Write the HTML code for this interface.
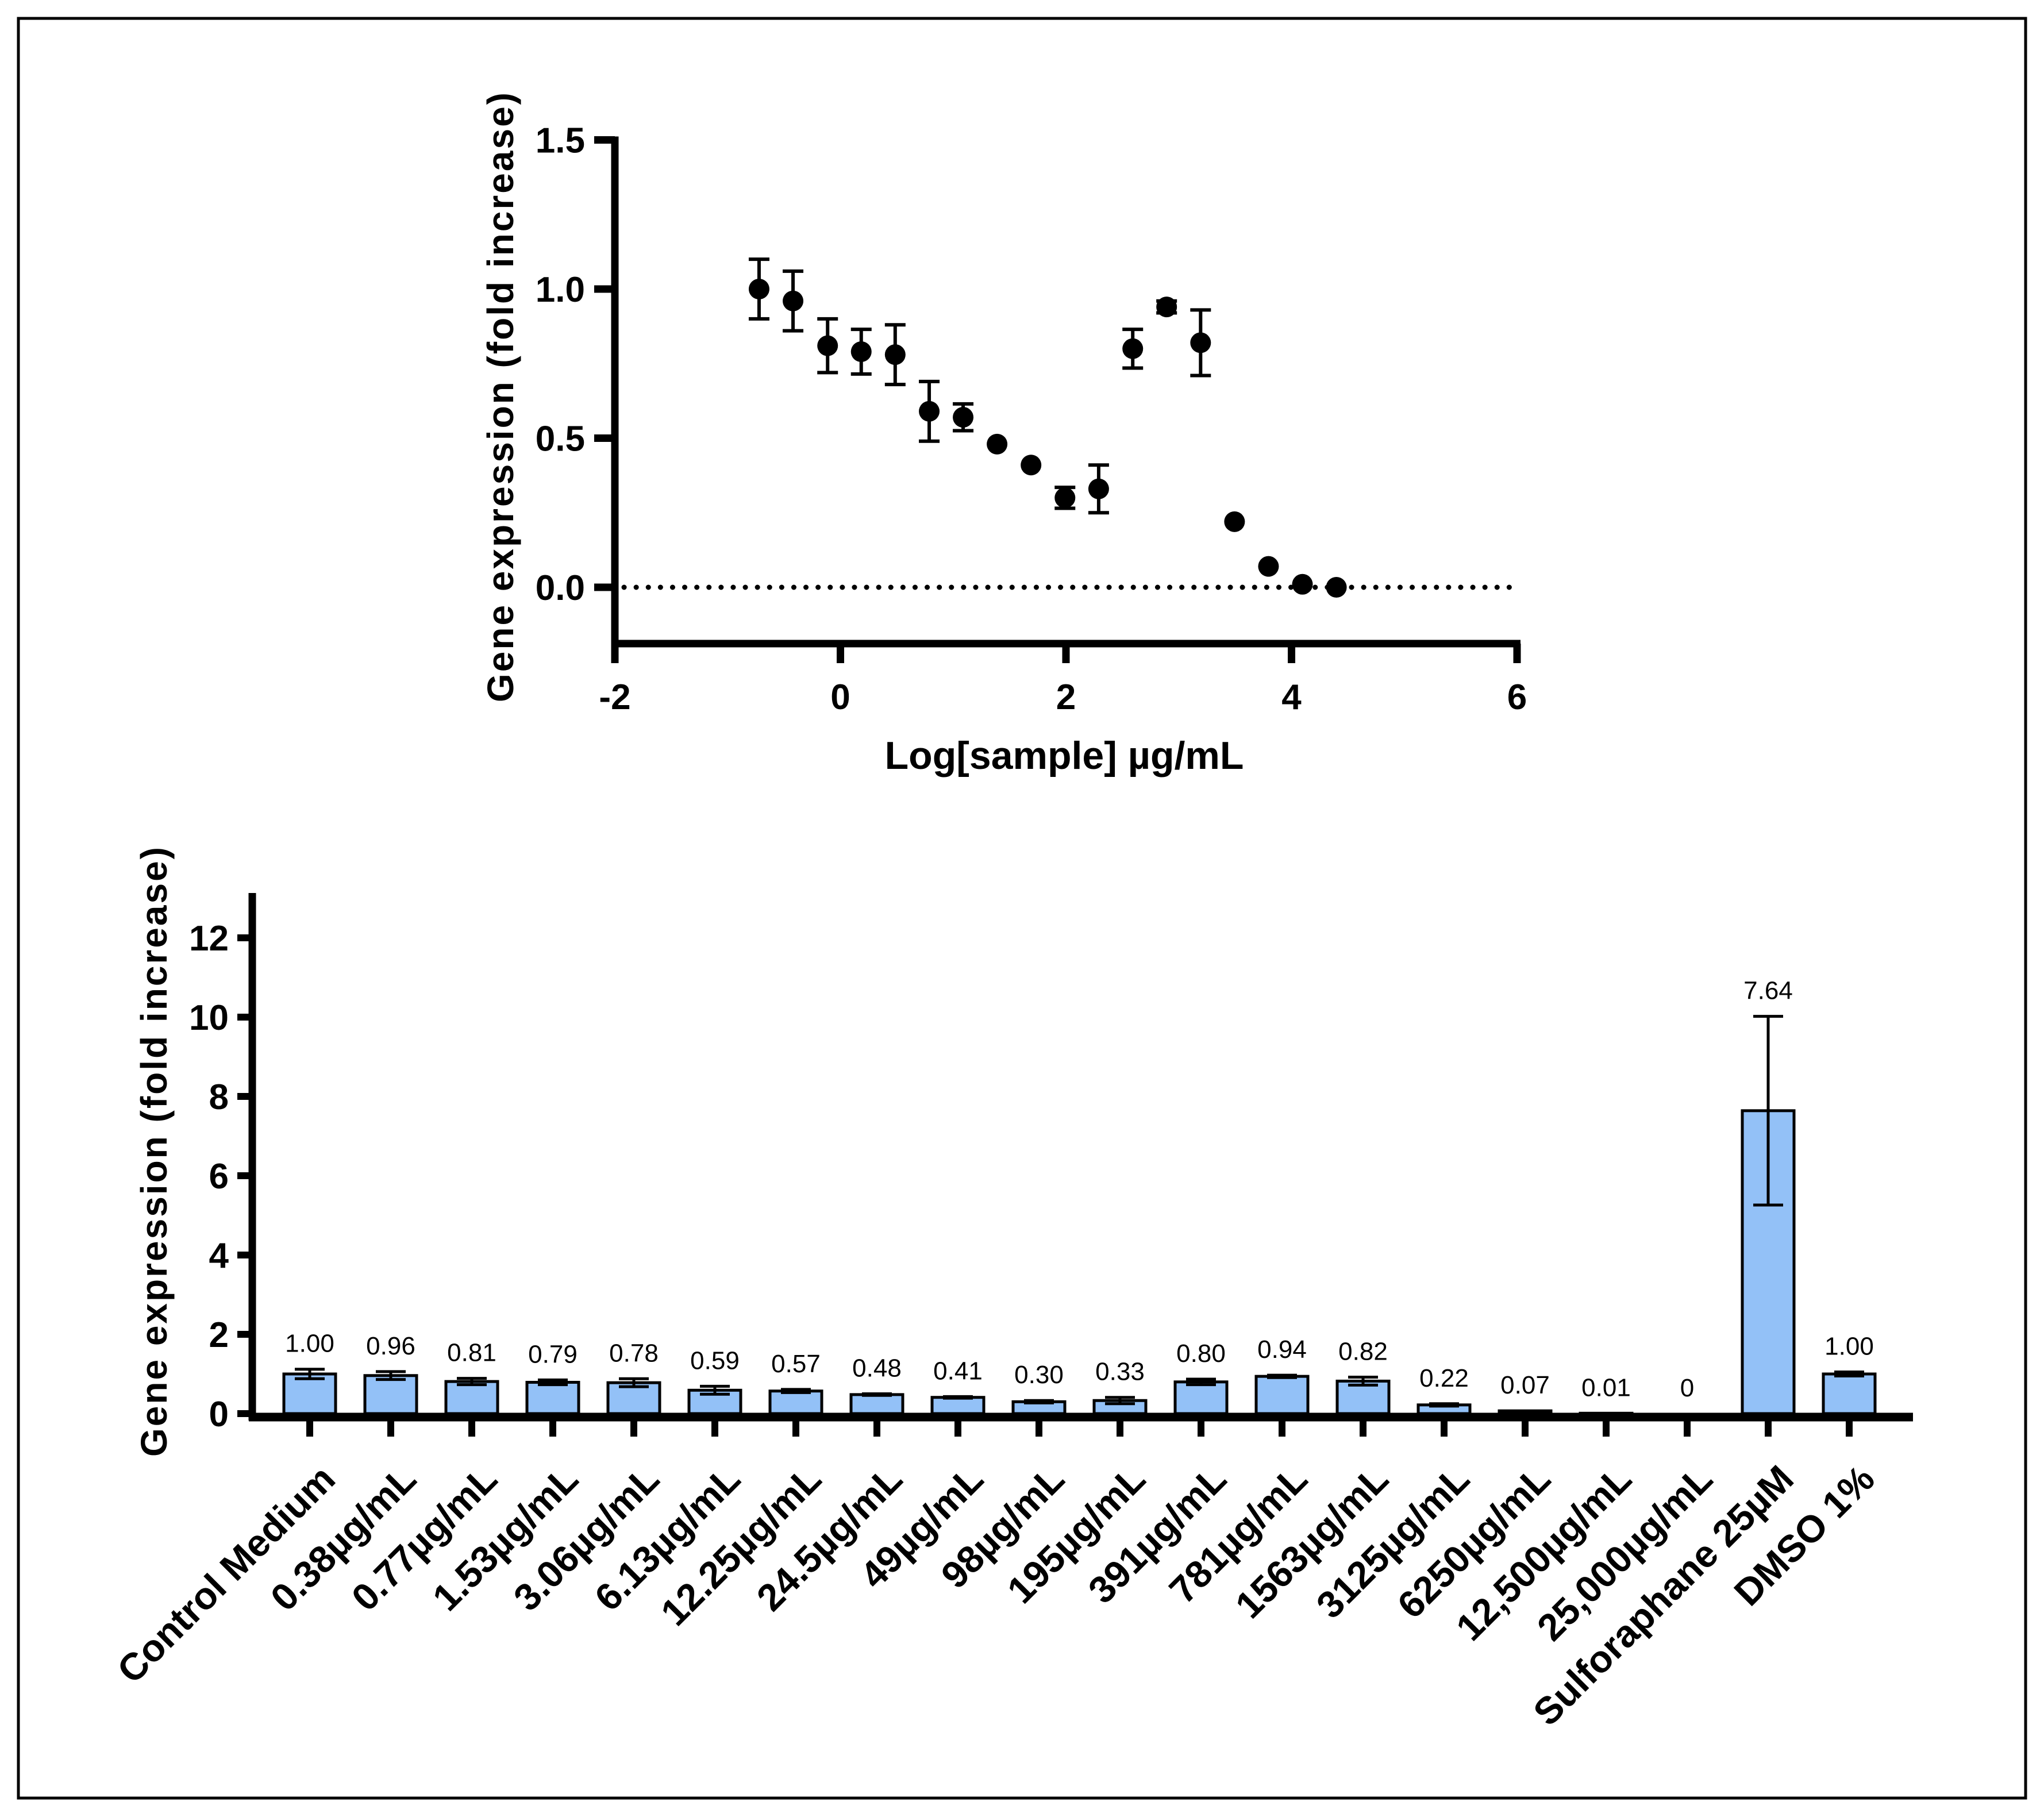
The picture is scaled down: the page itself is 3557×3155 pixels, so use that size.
<!DOCTYPE html>
<html><head><meta charset="utf-8"><style>
html,body{margin:0;padding:0;background:#fff}
svg{display:block;font-family:"Liberation Sans",Arial,sans-serif}
</style></head><body>
<svg id="fig" width="3557" height="3155" viewBox="0 0 3557 3155" xmlns="http://www.w3.org/2000/svg">
<rect x="32" y="32" width="3493" height="3097" fill="#fff" stroke="#000" stroke-width="5"/>
<g id="top"></g>
<g id="bot"></g>
</svg>
<script>
const NS="http://www.w3.org/2000/svg";
// ---- top chart data ----
const concs=[0.19,0.38,0.77,1.53,3.06,6.13,12.25,24.5,49,98,195,391,781,1563,3125,6250,12500,25000];
const scatterVals=[1.00,0.96,0.81,0.79,0.78,0.59,0.57,0.48,0.41,0.30,0.33,0.80,0.94,0.82,0.22,0.07,0.01,0.00];
const scatterErr=[0.10,0.10,0.09,0.075,0.10,0.10,0.045,0,0,0.035,0.08,0.065,0.02,0.11,0,0,0,0];
const topXTicks=[-2,0,2,4,6];
const topYTicks=[0.0,0.5,1.0,1.5];
const topYTickLabels=["0.0","0.5","1.0","1.5"];
// ---- bottom chart data ----
const categories=["Control Medium","0.38µg/mL","0.77µg/mL","1.53µg/mL","3.06µg/mL","6.13µg/mL","12.25µg/mL","24.5µg/mL","49µg/mL","98µg/mL","195µg/mL","391µg/mL","781µg/mL","1563µg/mL","3125µg/mL","6250µg/mL","12,500µg/mL","25,000µg/mL","Sulforaphane 25µM","DMSO 1%"];
const barVals=[1.00,0.96,0.81,0.79,0.78,0.59,0.57,0.48,0.41,0.30,0.33,0.80,0.94,0.82,0.22,0.07,0.01,0,7.64,1.00];
const barErr=[0.12,0.10,0.08,0.06,0.10,0.10,0.04,0.02,0.02,0.03,0.08,0.07,0.03,0.10,0.03,0,0,0,2.38,0.05];
const barLabels=["1.00","0.96","0.81","0.79","0.78","0.59","0.57","0.48","0.41","0.30","0.33","0.80","0.94","0.82","0.22","0.07","0.01","0","7.64","1.00"];
const botYTicks=[0,2,4,6,8,10,12];

function el(parent,tag,attrs,text){const e=document.createElementNS(NS,tag);for(const k in attrs)e.setAttribute(k,attrs[k]);if(text!==undefined)e.textContent=text;parent.appendChild(e);return e;}

// ===== top chart =====
const T=document.getElementById('top');
const tx=v=>1070+(v+2)*(2640-1070)/8;
const ty=v=>1022-v*519;
const tBottom=1120;
let e;
e=el(T,'line',{x1:tx(-2)+16,y1:ty(0),x2:tx(6),y2:ty(0),stroke:'#000','stroke-width':9,'stroke-dasharray':'0.1 21','stroke-linecap':'round'});


e=el(T,'line',{x1:1070,y1:ty(1.5)-6,x2:1070,y2:tBottom+6,stroke:'#000','stroke-width':13});


e=el(T,'line',{x1:1064,y1:tBottom,x2:tx(6)+6,y2:tBottom,stroke:'#000','stroke-width':13});


topYTicks.forEach((v,i)=>{
  e=el(T,'line',{x1:1034,y1:ty(v),x2:1070,y2:ty(v),stroke:'#000','stroke-width':13});
  
  
  e=el(T,'text',{x:1018,y:ty(v)+22,'text-anchor':'end','font-size':62,'font-weight':'bold'},topYTickLabels[i]);
  
  
});
topXTicks.forEach(v=>{
  e=el(T,'line',{x1:tx(v),y1:tBottom,x2:tx(v),y2:tBottom+34,stroke:'#000','stroke-width':13});
  
  
  e=el(T,'text',{x:tx(v),y:1234,'text-anchor':'middle','font-size':62,'font-weight':'bold'},String(v));
  
  
});
e=el(T,'text',{x:1852,y:1338,'text-anchor':'middle','font-size':68,'font-weight':'bold'},'Log[sample] µg/mL');


e=el(T,'text',{x:0,y:0,'text-anchor':'middle','font-size':64,'font-weight':'bold',transform:'translate(893,690) rotate(-90)','letter-spacing':'3'},'Gene expression (fold increase)');


concs.forEach((c,i)=>{
  const x=tx(Math.log10(c)),y=ty(scatterVals[i]),er=scatterErr[i];
  if(er>0){
    const g=el(T,'g',{stroke:'#000','stroke-width':6});
    
    
    el(g,'line',{x1:x,y1:ty(scatterVals[i]+er),x2:x,y2:ty(scatterVals[i]-er)});
    el(g,'line',{x1:x-18,y1:ty(scatterVals[i]+er),x2:x+18,y2:ty(scatterVals[i]+er)});
    el(g,'line',{x1:x-18,y1:ty(scatterVals[i]-er),x2:x+18,y2:ty(scatterVals[i]-er)});
  }
  e=el(T,'circle',{cx:x,cy:y,r:18,fill:'#000'});
  
  
});

// ===== bottom chart =====
const B=document.getElementById('bot');
const by=v=>2460-v*(2460-1632)/12;
const bx=i=>539+i*141;
const axL=439,axR=3329;
e=el(B,'line',{x1:axL,y1:1554,x2:axL,y2:2472,stroke:'#000','stroke-width':13});


botYTicks.forEach(v=>{
  e=el(B,'line',{x1:axL-26,y1:by(v),x2:axL,y2:by(v),stroke:'#000','stroke-width':12});
  
  
  e=el(B,'text',{x:398,y:by(v)+22,'text-anchor':'end','font-size':62,'font-weight':'bold'},String(v));
  
  
});
e=el(B,'text',{x:0,y:0,'text-anchor':'middle','font-size':64,'font-weight':'bold',transform:'translate(290,2003) rotate(-90)','letter-spacing':'3'},'Gene expression (fold increase)');


categories.forEach((c,i)=>{
  const x=bx(i),v=barVals[i],er=barErr[i];
  e=el(B,'rect',{x:x-45,y:by(v),width:90,height:by(0)-by(v),fill:'#93c1f7',stroke:'#000','stroke-width':5});
  
  
  if(er>0){
    const g=el(B,'g',{stroke:'#000','stroke-width':5});
    
    
    el(g,'line',{x1:x,y1:by(v+er),x2:x,y2:by(Math.max(0,v-er))});
    el(g,'line',{x1:x-26,y1:by(v+er),x2:x+26,y2:by(v+er)});
    el(g,'line',{x1:x-26,y1:by(v-er),x2:x+26,y2:by(v-er)});
  }
  e=el(B,'text',{x:x,y:by(v+er)-30,'text-anchor':'middle','font-size':44},barLabels[i]);
  
  
  e=el(B,'line',{x1:x,y1:2462,x2:x,y2:2500,stroke:'#000','stroke-width':12});
  
  
  e=el(B,'text',{x:0,y:0,'text-anchor':'end','font-size':66,'font-weight':'bold',transform:`translate(${x+48},${2578}) rotate(-45)`},c);
  
  
});
e=el(B,'line',{x1:axL-6,y1:2466,x2:axR,y2:2466,stroke:'#000','stroke-width':15});


</script>
</body></html>
